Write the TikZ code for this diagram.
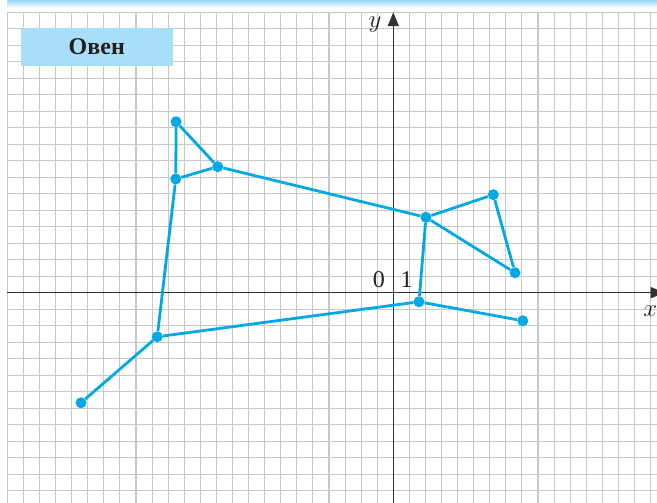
\documentclass[tikz,border=0pt]{standalone}
\usepackage{fontspec}
\setmainfont{Liberation Serif}
\usepackage{tikz}
\usetikzlibrary{arrows.meta, positioning}
\definecolor{ramblue}{RGB}{0,168,230}
\definecolor{tagblue}{RGB}{168,222,248}
\definecolor{bandblue}{RGB}{150,215,245}
\definecolor{gridgray}{RGB}{200,200,200}
\definecolor{axisgray}{RGB}{50,50,50}
\definecolor{inkblack}{RGB}{35,31,32}

\begin{document}
\begin{tikzpicture}[x=16.08pt, y=16.5pt,
  dot/.style={circle, fill=ramblue, inner sep=0pt, minimum size=11pt},
  edge/.style={ramblue, line width=2.8pt},
  gridline/.style={gridgray, line width=1.1pt},
  axis/.style={axisgray, line width=1.4pt, -{Triangle[length=14pt, width=11pt]}},
  lbl/.style={inkblack, inner sep=0pt, font=\fontsize{24}{28}\selectfont}]
  \useasboundingbox (-24.46,-12.745) rectangle (16.40,17.74);

  % Top band
  \shade[top color=bandblue, bottom color=white] (-24,17.74) rectangle (16.40,17.25);

  % Squared paper
  \foreach \i in {-24,...,16}
    \draw[gridline] (\i,-12.745) -- (\i,17);
  \foreach \j in {-12,...,17}
    \draw[gridline] (-24,\j) -- (16.40,\j);

  % Axes
  \coordinate (xs) at (-24,0);
  \coordinate (xe) at (16.88,0);
  \coordinate (ys) at (0,-12.9);
  \coordinate (ye) at (0,17);
  \draw[axis] (xs) -- (xe);
  \draw[axis] (ys) -- (ye);
  \node[lbl] (xlab) at (15.98,-1.11) {$x$};
  \node[lbl] (ylab) at (-1.14,16.24) {$y$};
  \node[lbl] (zero) at (-0.89,0.8) {0};
  \node[lbl] (one) at (0.83,0.8) {1};

  % Title
  \node[fill=tagblue, minimum width=151.7pt, minimum height=37.4pt, text=inkblack,
    font=\fontsize{24}{28}\selectfont\bfseries] (title) at (-18.44,14.89) {Овен};

  % Points
  \node[dot] (p1) at (-19.42,-6.67) {};
  \node[dot] (p2) at (-14.68,-2.67) {};
  \node[dot] (p3) at (1.60,-0.55) {};
  \node[dot] (p4) at (8.05,-1.70) {};
  \node[dot] (p5) at (2.03,4.57) {};
  \node[dot] (p6) at (6.22,5.94) {};
  \node[dot] (p7) at (7.57,1.21) {};
  \node[dot] (p8) at (-10.92,7.64) {};
  \node[dot] (p9) at (-13.51,10.36) {};
  \node[dot] (p10) at (-13.53,6.89) {};

  % Segments
  \draw[edge] (p1) -- (p2);
  \draw[edge] (p2) -- (p3);
  \draw[edge] (p3) -- (p4);
  \draw[edge] (p3) -- (p5);
  \draw[edge] (p5) -- (p6);
  \draw[edge] (p6) -- (p7);
  \draw[edge] (p7) -- (p5);
  \draw[edge] (p5) -- (p8);
  \draw[edge] (p8) -- (p9);
  \draw[edge] (p9) -- (p10);
  \draw[edge] (p10) -- (p8);
  \draw[edge] (p10) -- (p2);
\end{tikzpicture}
\end{document}
